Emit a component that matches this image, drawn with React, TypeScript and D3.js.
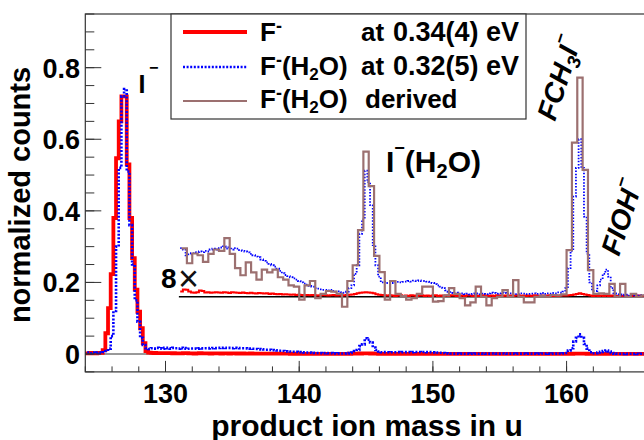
import React from 'react';
import * as d3 from 'd3';

const WIDTH = 644;
const HEIGHT = 440;
const FONT = "'Liberation Sans', Arial, Helvetica, sans-serif";

// histogram binning in u
const FINE_START = 123.9;
const FINE_WIDTH = 0.2;
const DERIVED_START = 131.2;
const DERIVED_WIDTH = 0.4;

// magnified copy: offset + 8 x counts, drawn from 131 u on
const ZOOM_OFFSET = 0.16;
const ZOOM_FACTOR = 8;
const ZOOM_FROM = 131.0;

const xTickValues = [130, 140, 150, 160];
const yTickValues = [0, 0.2, 0.4, 0.6, 0.8];

// F- at 0.34(4) eV
const fMinus = [
  0.002, 0.002, 0.003, 0.002, 0.002, 0.003, 0.003, 0.011, 0.058, 0.128,
  0.223, 0.38, 0.547, 0.65, 0.72, 0.72, 0.53, 0.38, 0.268, 0.18,
  0.118, 0.072, 0.03, 0.008, 0.004, 0.003, 0.0028, 0.0026, 0.0025, 0.0024,
  0.0023, 0.0022, 0.0022, 0.0021, 0.002, 0.002, 0.0018, 0.0025, 0.0024, 0.0018,
  0.0015, 0.0014, 0.0016, 0.0022, 0.002, 0.0015, 0.0016, 0.0014, 0.0015, 0.0016,
  0.0015, 0.0014, 0.0016, 0.0015, 0.0013, 0.0016, 0.0015, 0.0014, 0.0013, 0.0015,
  0.0013, 0.0012, 0.0014, 0.0012, 0.0011, 0.0013, 0.0012, 0.0011, 0.0012, 0.001,
  0.0011, 0.001, 0.0009, 0.001, 0.0008, 0.0009, 0.0008, 0.0007, 0.0008, 0.0006,
  0.0007, 0.0006, 0.0005, 0.0006, 0.0005, 0.0006, 0.0005, 0.0004, 0.0005, 0.0006,
  0.0005, 0.0004, 0.0005, 0.0006, 0.0004, 0.0005, 0.0004, 0.0005, 0.0006, 0.0007,
  0.0008, 0.001, 0.0012, 0.0014, 0.0015, 0.0016, 0.0015, 0.0014, 0.0012, 0.0009,
  0.0007, 0.0006, 0.0005, 0.0004, 0.0005, 0.0004, 0.0003, 0.0004, 0.0005, 0.0003,
  0.0004, 0.0003, 0.0005, 0.0004, 0.0003, 0.0004, 0.0005, 0.0003, 0.0004, 0.0003,
  0.0004, 0.0005, 0.0003, 0.0004, 0.0003, 0.0004, 0.0003, 0.0005, 0.0004, 0.0003,
  0.0003, 0.0004, 0.0003, 0.0005, 0.0004, 0.0003, 0.0004, 0.0003, 0.0004, 0.0005,
  0.0004, 0.0003, 0.0004, 0.0003, 0.0005, 0.0004, 0.0003, 0.0004, 0.0003, 0.0004,
  0.0003, 0.0004, 0.0005, 0.0003, 0.0004, 0.0003, 0.0004, 0.0003, 0.0005, 0.0004,
  0.0003, 0.0004, 0.0003, 0.0004, 0.0005, 0.0003, 0.0004, 0.0003, 0.0004, 0.0004,
  0.0004, 0.0005, 0.0006, 0.0008, 0.001, 0.0012, 0.001, 0.0008, 0.0006, 0.0004,
  0.0003, 0.0004, 0.0003, 0.0004, 0.0003, 0.0004, 0.0003, 0.0004, 0.0003, 0.0003,
  0.0004, 0.0003, 0.0004, 0.0003, 0.0003, 0.0004, 0.0003, 0.0004, 0.0003, 0.0003, 0.0003,
];

// F-(H2O) at 0.32(5) eV
const fWater = [
  0.003, 0.004, 0.002, 0.004, 0.003, 0.004, 0.003, 0.005, 0.008, 0.015,
  0.05, 0.12, 0.3, 0.52, 0.72, 0.74, 0.51, 0.36, 0.25, 0.15,
  0.09, 0.045, 0.025, 0.016, 0.014, 0.016, 0.015, 0.017, 0.016, 0.015,
  0.017, 0.016, 0.015, 0.017, 0.016, 0.015, 0.017, 0.0165, 0.0145, 0.0148,
  0.0152, 0.0155, 0.015, 0.0158, 0.0156, 0.016, 0.0158, 0.0165, 0.0168, 0.0165,
  0.017, 0.0172, 0.0176, 0.0168, 0.0172, 0.0165, 0.017, 0.0168, 0.0163, 0.016,
  0.0158, 0.0155, 0.015, 0.0145, 0.014, 0.0138, 0.013, 0.0125, 0.012, 0.0115,
  0.011, 0.0105, 0.0098, 0.009, 0.0082, 0.0076, 0.0072, 0.0068, 0.0064, 0.006,
  0.0055, 0.005, 0.0046, 0.0042, 0.0038, 0.0035, 0.003, 0.0028, 0.0026, 0.0024,
  0.0024, 0.0022, 0.0024, 0.002, 0.0018, 0.0019, 0.0016, 0.0014, 0.0018, 0.003,
  0.004, 0.008, 0.011, 0.022, 0.027, 0.044, 0.04, 0.032, 0.018, 0.011,
  0.007, 0.005, 0.0052, 0.0048, 0.0047, 0.0048, 0.005, 0.0052, 0.005, 0.0052,
  0.0053, 0.0055, 0.0053, 0.0056, 0.0055, 0.0057, 0.0055, 0.0055, 0.0053, 0.0052,
  0.0048, 0.0044, 0.004, 0.0035, 0.003, 0.0022, 0.0016, 0.0013, 0.0012, 0.0014,
  0.001, 0.0012, 0.0009, 0.0011, 0.0008, 0.001, 0.0012, 0.0009, 0.0011, 0.001,
  0.0009, 0.0012, 0.0014, 0.0013, 0.0011, 0.0012, 0.0014, 0.0013, 0.001, 0.0012,
  0.0011, 0.0009, 0.001, 0.0012, 0.0011, 0.0009, 0.001, 0.0011, 0.0012, 0.001,
  0.0011, 0.0013, 0.001, 0.0012, 0.0011, 0.0013, 0.0012, 0.0015, 0.0014, 0.0018,
  0.003, 0.01, 0.016, 0.035, 0.045, 0.055, 0.045, 0.028, 0.015, 0.005,
  0.002, 0.002, 0.004, 0.006, 0.008, 0.0095, 0.007, 0.003, 0.0012, 0.001,
  0.0008, 0.0005, 0.0007, 0.0004, 0.0006, 0.0005, 0.0007, 0.0004, 0.0006, 0.0005, 0.0005,
];

// F-(H2O) derived, coarser bins, only shown magnified
const fWaterDerived = [
  0.0169, 0.0117, 0.0151, 0.0145, 0.0122, 0.015, 0.0165, 0.016, 0.0205, 0.015,
  0.01, 0.0075, 0.012, 0.0085, 0.006, 0.0095, 0.0085, 0.0095, 0.0068, 0.006,
  0.004, 0.0035, -0.001, 0.004, 0.0055, -0.0005, 0.001, 0.002, 0.0018, 0.001,
  -0.0035, 0.0055, 0.011, 0.0233, 0.0507, 0.0386, 0.0143, 0.0086, -0.001, 0.0055,
  0.001, 0.0002, -0.001, -0.0005, 0.001, 0.0035, 0.0035, -0.0017, -0.0015, 0.0005,
  0.003, 0.001, -0.0005, -0.003, -0.002, 0.0035, 0, -0.003, -0.0005, 0,
  0.0023, 0, 0.0058, 0, -0.002, -0.002, 0, 0.0003, 0, 0.0006,
  0.0005, 0.0008, 0.0163, 0.0538, 0.0765, 0.0443, 0.0093, 0.001, 0.0012, 0.001,
  0.0045, 0, 0.0045, 0, 0.001, 0, 0.0005,
];

type Pt = [number, number];

const toSteps = (counts: number[], start: number, width: number): Pt[] => {
  const pts: Pt[] = counts.map((c, i) => [start + i * width, c]);
  pts.push([start + counts.length * width, counts[counts.length - 1]]);
  return pts;
};

const x = d3.scaleLinear().domain([124, 166]).range([85.3, 646.8]);
const y = d3.scaleLinear().domain([-0.05, 0.95]).range([371.9, 14]);

const lowerLine = d3.line<Pt>()
  .x(d => x(d[0]))
  .y(d => y(d[1]))
  .curve(d3.curveStepAfter);

const upperLine = d3.line<Pt>()
  .x(d => x(d[0]))
  .y(d => y(ZOOM_OFFSET + ZOOM_FACTOR * d[1]))
  .curve(d3.curveStepAfter);

const RED = '#ff0000';
const BLUE = '#0000ff';
const BROWN = '#9c7070';

const App = () => {
  const redPts = toSteps(fMinus, FINE_START, FINE_WIDTH);
  const bluePts = toSteps(fWater, FINE_START, FINE_WIDTH);
  const derivedPts = toSteps(fWaterDerived, DERIVED_START, DERIVED_WIDTH);
  const redUpper = redPts.filter(p => p[0] >= ZOOM_FROM + 0.05);
  const blueUpper = bluePts.filter(p => p[0] >= ZOOM_FROM + 0.05);

  const [x0, x1] = x.range();
  const [yb, yt] = y.range();

  const xMinor = d3.range(124, 166.01, 2);
  const yMinor = d3.range(-0.05, 0.951, 0.05);

  return (
    <svg
      width={WIDTH}
      height={HEIGHT}
      style={{ position: 'fixed', left: 0, top: 0, background: '#fff' }}
      fontFamily={FONT}
    >
      <defs>
        <clipPath id="plot">
          <rect x={x0} y={yt} width={x1 - x0} height={yb - yt} />
        </clipPath>
      </defs>
      <rect width={WIDTH} height={HEIGHT} fill="#fff" />

      <g clipPath="url(#plot)">
        {/* reference lines */}
        <line x1={x0} x2={x1} y1={y(0)} y2={y(0)} stroke="#333" strokeWidth={1} />
        <line x1={x(ZOOM_FROM)} x2={x1} y1={y(ZOOM_OFFSET)} y2={y(ZOOM_OFFSET)} stroke="#000" strokeWidth={1.3} />

        {/* full-scale spectra */}
        <path d={lowerLine(redPts) ?? ''} fill="none" stroke={RED} strokeWidth={3.8} />
        <path d={lowerLine(bluePts) ?? ''} fill="none" stroke={BLUE} strokeWidth={2.6} strokeDasharray="2,1.6" />

        {/* 8x magnified spectra */}
        <path d={upperLine(redUpper) ?? ''} fill="none" stroke={RED} strokeWidth={2} />
        <path d={upperLine(blueUpper) ?? ''} fill="none" stroke={BLUE} strokeWidth={1.8} strokeDasharray="1.5,1.6" />
        <path d={upperLine(derivedPts) ?? ''} fill="none" stroke={BROWN} strokeWidth={2.2} />
      </g>

      {/* frame and ticks */}
      <rect x={x0} y={yt} width={x1 - x0} height={yb - yt} fill="none" stroke="#333" strokeWidth={1.2} />
      {yMinor.map(v => (
        <line key={`ym${v}`} x1={x0} x2={x0 + 9} y1={y(v)} y2={y(v)} stroke="#333" strokeWidth={1} />
      ))}
      {yTickValues.map(v => (
        <line key={`yM${v}`} x1={x0} x2={x0 + 16} y1={y(v)} y2={y(v)} stroke="#333" strokeWidth={1} />
      ))}
      {xMinor.map(v => (
        <line key={`xm${v}`} x1={x(v)} x2={x(v)} y1={yb} y2={yb - 5.5} stroke="#333" strokeWidth={1} />
      ))}
      {xTickValues.map(v => (
        <line key={`xM${v}`} x1={x(v)} x2={x(v)} y1={yb} y2={yb - 11} stroke="#333" strokeWidth={1} />
      ))}

      {/* tick labels */}
      {yTickValues.map(v => (
        <text key={`yl${v}`} x={80} y={y(v) + 10} textAnchor="end" fontSize={27} fontWeight="bold">
          {v === 0 ? '0' : d3.format('.1f')(v)}
        </text>
      ))}
      {xTickValues.map(v => (
        <text key={`xl${v}`} x={x(v)} y={403} textAnchor="middle" fontSize={27} fontWeight="bold">
          {v}
        </text>
      ))}

      {/* axis titles */}
      <text x={367} y={436} textAnchor="middle" fontSize={30} fontWeight="bold">
        product ion mass in u
      </text>
      <text transform="translate(30,195) rotate(-90)" textAnchor="middle" fontSize={29} fontWeight="bold">
        normalized counts
      </text>

      {/* peak labels */}
      <text x={138.5} y={93} fontSize={25} fontWeight="bold">I</text>
      <text x={149} y={73} fontSize={16} fontWeight="bold">−</text>

      <text x={386} y={172} fontSize={30} fontWeight="bold">
        I<tspan dy={-18} fontSize={18}>−</tspan>
        <tspan dy={18}>(H</tspan>
        <tspan dy={6} fontSize={20}>2</tspan>
        <tspan dy={-6}>O)</tspan>
      </text>

      <text transform="translate(555,122) rotate(-72)" fontSize={28} fontWeight="bold" fontStyle="italic">
        FCH<tspan dy={6} fontSize={19}>3</tspan>
        <tspan dy={-6}>I</tspan>
        <tspan dy={-15} fontSize={18}>−</tspan>
      </text>
      <text transform="translate(619,257) rotate(-72)" fontSize={28} fontWeight="bold" fontStyle="italic">
        FIOH<tspan dy={-15} fontSize={18}>−</tspan>
      </text>

      <text x={161} y={288} fontSize={28} fontWeight="bold">8</text>
      <text x={178} y={291} fontSize={36} fill="#111">×</text>

      {/* legend */}
      <rect x={171} y={14} width={355} height={105} fill="#fff" stroke="#333" strokeWidth={1.2} />
      <line x1={183} x2={247} y1={32} y2={32} stroke={RED} strokeWidth={3.8} />
      <line x1={183} x2={247} y1={67} y2={67} stroke={BLUE} strokeWidth={2.6} strokeDasharray="2,1.6" />
      <line x1={183} x2={247} y1={101} y2={101} stroke={BROWN} strokeWidth={2.2} />

      <g fontSize={26} fontWeight="bold">
        <text x={260} y={41}>
          F<tspan dy={-9} fontSize={18}>-</tspan>
        </text>
        <text x={361} y={41}>at</text>
        <text x={393} y={41} fontSize={27}>0.34(4)</text>
        <text x={486} y={41} fontSize={27}>eV</text>

        <text x={260} y={75}>
          F<tspan dy={-9} fontSize={18}>-</tspan>
          <tspan dy={9}>(H</tspan>
          <tspan dy={5} fontSize={17}>2</tspan>
          <tspan dy={-5}>O)</tspan>
        </text>
        <text x={361} y={75}>at</text>
        <text x={393} y={75} fontSize={27}>0.32(5)</text>
        <text x={486} y={75} fontSize={27}>eV</text>

        <text x={260} y={108}>
          F<tspan dy={-9} fontSize={18}>-</tspan>
          <tspan dy={9}>(H</tspan>
          <tspan dy={5} fontSize={17}>2</tspan>
          <tspan dy={-5}>O)</tspan>
        </text>
        <text x={365} y={108}>derived</text>
      </g>
    </svg>
  );
};

export default App;
